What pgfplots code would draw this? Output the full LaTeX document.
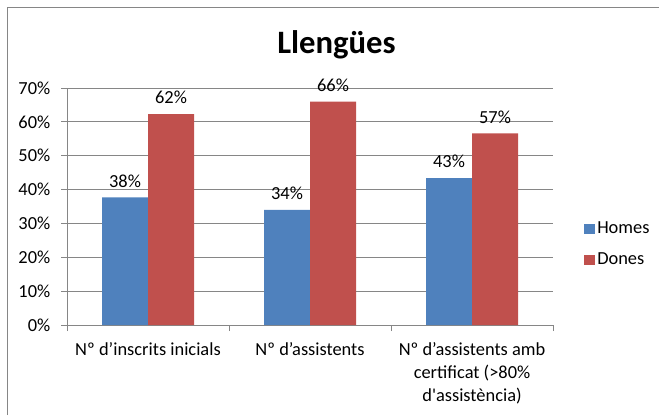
\documentclass[border=0pt]{standalone}
\usepackage{fontspec}
\setmainfont{Carlito}
\usepackage{pgfplots}
\pgfplotsset{compat=1.18}
\definecolor{homes}{HTML}{4F81BD}
\definecolor{dones}{HTML}{C0504D}
\definecolor{axgray}{HTML}{868686}
\begin{document}
\begin{tikzpicture}
\useasboundingbox (0pt,0pt) rectangle (494.25pt,311.25pt);
\draw[axgray, line width=0.75pt] (5.25pt,0pt) -- (5.25pt,305.25pt) -- (494.25pt,305.25pt);
\node[font=\bfseries\fontsize{24.5}{29}\selectfont, anchor=base, inner sep=0pt] at (252.4pt,270.75pt) {Llengües};
\begin{axis}[at={(50.25pt,67.5pt)}, anchor=south west, scale only axis,
  width=364.5pt, height=177.75pt,
  ybar=0pt, bar width=34.5pt,
  ymin=0, ymax=70, xmin=-0.5, xmax=2.5,
  ytick={0,10,...,70},
  yticklabel={\pgfmathprintnumber{\tick}\%},
  /pgf/number format/assume math mode=true,
  ymajorgrids, grid style={axgray, line width=0.75pt},
  axis x line*=bottom, axis y line*=left,
  axis line style={axgray, line width=0.75pt},
  tick align=outside, major tick length=4.5pt,
  tick style={axgray, line width=0.75pt},
  xtick={-0.5,0.5,1.5,2.5}, xticklabels={},
  extra x ticks={0,1,2},
  extra x tick labels={Nº d’inscrits inicials, Nº d’assistents, Nº d’assistents amb\\certificat (>80\%\\d\textquotesingle assistència)},
  extra x tick style={major tick length=0pt, grid=none},
  ticklabel style={font=\fontsize{13.8}{17.25}\selectfont},
  xticklabel style={align=center, yshift=-9.5pt},
  yticklabel style={xshift=-4.5pt},
  nodes near coords={\pgfmathprintnumber[fixed,precision=0]{\pgfplotspointmeta}\%},
  nodes near coords style={font=\fontsize{13.8}{16}\selectfont, black, yshift=4pt},
  legend style={at={(1,0.34)}, anchor=west, xshift=20pt, draw=none, fill=none,
    font=\fontsize{13.8}{16}\selectfont, row sep=9pt},
  legend cell align=left,
]
\addplot[fill=homes, draw=none, legend image code/.code={\fill[homes] (0pt,-4pt) rectangle (8pt,4pt);}]
  coordinates {(0,37.7) (1,34) (2,43.4)};
\addplot[fill=dones, draw=none, legend image code/.code={\fill[dones] (0pt,-4pt) rectangle (8pt,4pt);}]
  coordinates {(0,62.3) (1,66) (2,56.6)};
\legend{Homes, Dones}
\end{axis}
\end{tikzpicture}
\end{document}
